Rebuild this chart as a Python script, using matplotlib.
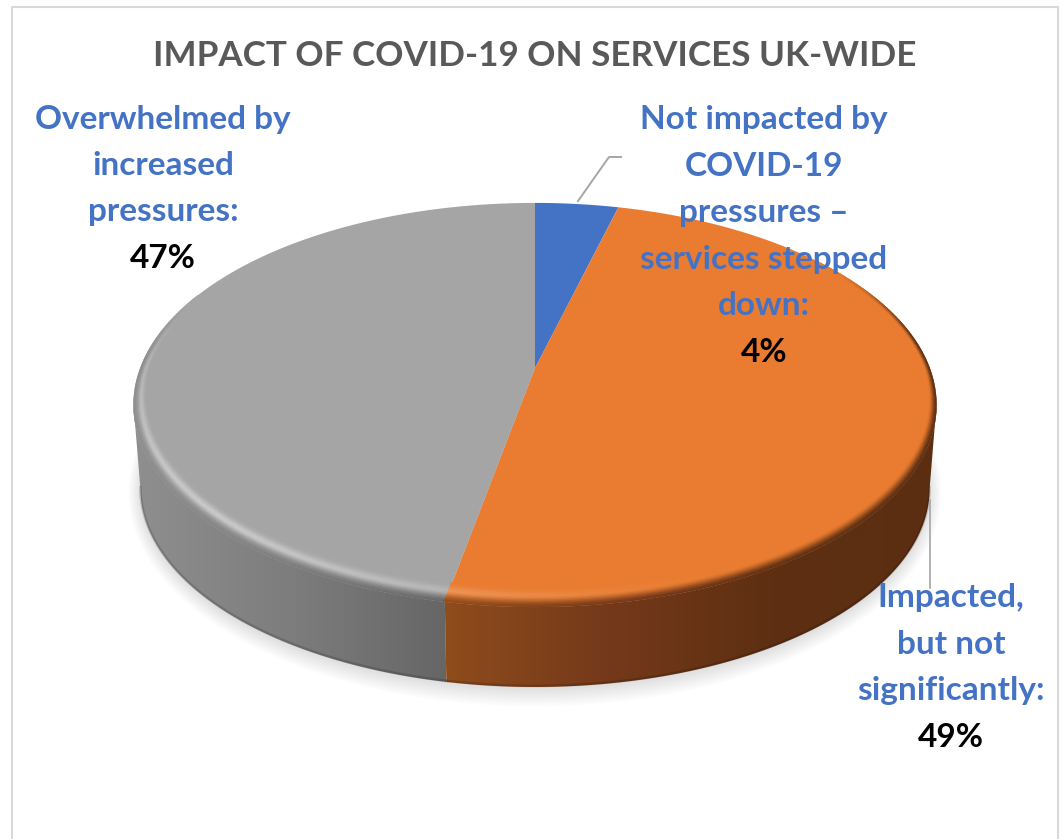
import numpy as np
import matplotlib
matplotlib.use("Agg")
import matplotlib.pyplot as plt
from matplotlib.collections import PolyCollection
from matplotlib.colors import LinearSegmentedColormap, to_rgb
from matplotlib.patches import Polygon

plt.rcParams['font.family'] = ['Lato', 'DejaVu Sans']

title = "IMPACT OF COVID-19 ON SERVICES UK-WIDE"
labels = [["Not impacted by", "COVID-19", "pressures –", "services stepped", "down:"],
          ["Impacted,", "but not", "significantly:"],
          ["Overwhelmed by", "increased", "pressures:"]]
values = [4, 49, 47]
face_colors = ["#4472C4", "#E97C30", "#A5A5A5"]
label_x = [764, 951, 163]
label_top = [120, 598, 119]

# perspective of the pie disc, in pixels
CX, CY = 535, 368
A, B, K = 394.7, 195.3, 0.183
DEPTH, SHRINK = 84, 0.983

gray_side = LinearSegmentedColormap.from_list("gray_side", ["#8F8F8F", "#7D7D7D", "#666666"])
orange_side = LinearSegmentedColormap.from_list("orange_side", ["#8F4C1C", "#74391A", "#5E2F12", "#5B2E12"])


def project(r, theta):
    u, v = r * np.sin(theta), r * np.cos(theta)
    w = 1 + K * v
    return CX + A * u / w, CY - B * v / w


def lower(x, y):
    return CX + (x - CX) * SHRINK, CY + (y - CY) * SHRINK + DEPTH


def smoothstep(a, b, x):
    s = np.clip((x - a) / (b - a), 0, 1)
    return s * s * (3 - 2 * s)


fig = plt.figure(figsize=(10.64, 8.39), dpi=100)
ax = fig.add_axes([0, 0, 1, 1])

edges = np.radians(np.cumsum([0] + values) * 3.6)
circle = np.linspace(0, 2 * np.pi, 721)

# x range covered by each side gradient, split where the two front slices meet
split_x = project(1.0, edges[2])[0]
GRAY_X = (134, split_x)
ORANGE_X = (split_x, 937)


def side_color(x):
    if x < split_x:
        return np.array(gray_side((x - GRAY_X[0]) / (GRAY_X[1] - GRAY_X[0]))[:3])
    return np.array(orange_side((x - ORANGE_X[0]) / (ORANGE_X[1] - ORANGE_X[0]))[:3])


# soft shadow under the disc
rim_x, rim_y = project(1.0, circle)
low_x, low_y = lower(rim_x, rim_y)
for gx, gy in zip(np.linspace(1.03, 1.0, 10), np.linspace(1.075, 1.0, 10)):
    sx = CX + (low_x - CX) * gx
    sy = CY + 100 + (low_y - CY - 100) * gy + 3
    ax.add_patch(Polygon(np.c_[sx, sy], fc="black", ec="none", alpha=0.012, zorder=1))

# sides of the two front slices, from the slice edge out to the widest point of the rim
left_th = circle[np.argmin(rim_x)]
right_th = circle[np.argmax(rim_x)]
for th, cmap, span in [(np.linspace(edges[2], left_th, 300), gray_side, GRAY_X),
                       (np.linspace(right_th, edges[2], 300), orange_side, ORANGE_X)]:
    x, y = project(1.0, th)
    lx, ly = lower(x, y)
    outline = Polygon(np.r_[np.c_[x, y], np.c_[lx, ly][::-1]], fc="none", ec="none", zorder=2)
    ax.add_patch(outline)
    im = ax.imshow(np.linspace(0, 1, 256).reshape(1, -1), cmap=cmap, vmin=0, vmax=1, aspect="auto",
                   extent=(span[0] - 1, span[1] + 1, 700, 300), zorder=2)
    im.set_clip_path(outline)
    # darker soft line along the bottom edge
    ax.plot(lx, ly - 1, color="black", alpha=0.15, lw=2, zorder=2.5)

# flat top of each slice
for i, color in enumerate(face_colors):
    th = np.linspace(edges[i], edges[i + 1], 300)
    x, y = project(1.0, th)
    pts = np.r_[[[CX, CY]], np.c_[x, y]]
    ax.add_patch(Polygon(pts, fc=color, ec="none", zorder=3))

# rounded rim: highlight on the lower left, dark towards the side
quads, quad_colors = [], []
steps = np.linspace(0, 1, 15)
for a0, a1 in zip(circle[:-1], circle[1:]):
    mid = (a0 + a1) / 2
    idx = min(np.searchsorted(edges, mid) - 1, len(values) - 1)
    base = np.array(to_rgb(face_colors[idx]))
    if mid < np.pi:
        vis = 1 - smoothstep(0.1, 0.6, np.cos(mid))
    else:
        vis = 1 - smoothstep(0.0, 0.4, np.cos(mid))
    if vis <= 0:
        continue
    light = max(np.cos(mid - np.radians(230)), 0) ** 3 * vis
    r0 = 1 - 0.025 - 0.045 * max(-np.cos(mid), 0)
    edge_color = side_color(project(1.0, mid)[0])
    for t0, t1 in zip(steps[:-1], steps[1:]):
        t = (t0 + t1) / 2
        col = base + (1 - base) * 0.42 * light * np.exp(-((t - 0.45) / 0.24) ** 2)
        col = col + (edge_color - col) * vis * smoothstep(0.45, 1, t)
        r_a, r_b = r0 + (1 - r0) * t0, r0 + (1 - r0) * t1
        quads.append([project(r_a, a0), project(r_b, a0), project(r_b, a1), project(r_a, a1)])
        quad_colors.append(np.clip(col, 0, 1))
ax.add_collection(PolyCollection(quads, facecolors=quad_colors, edgecolors="face", linewidths=0.3, zorder=4))

# leader lines
ax.plot([578, 609, 621], [201, 157, 157], color="#A6A6A6", lw=1.4, zorder=5)
ax.plot([930, 930], [500, 588], color="#A6A6A6", lw=1.2, zorder=5)

# chart frame
ax.plot([12, 12, 1058, 1058], [839, 7, 7, 839], color="#D9D9D9", lw=1.5, zorder=1)

ax.text(535, 56, title, ha="center", va="center", color="#595959", fontsize=25.2, fontweight="bold", zorder=6)

# data labels, one text per line, percentage last
LINE_STEP = 46.4
for lines, value, x, top in zip(labels, values, label_x, label_top):
    for n, line in enumerate(lines):
        ax.text(x, top + n * LINE_STEP, line, ha="center", va="center", color="#4472C4",
                fontsize=24, fontweight="bold", zorder=6)
    ax.text(x, top + len(lines) * LINE_STEP, f"{value}%", ha="center", va="center", color="black",
            fontsize=24, fontweight="bold", zorder=6)

ax.set_xlim(0, 1064)
ax.set_ylim(839, 0)
ax.axis("off")
fig.savefig("out.png", dpi=100, facecolor="white")
